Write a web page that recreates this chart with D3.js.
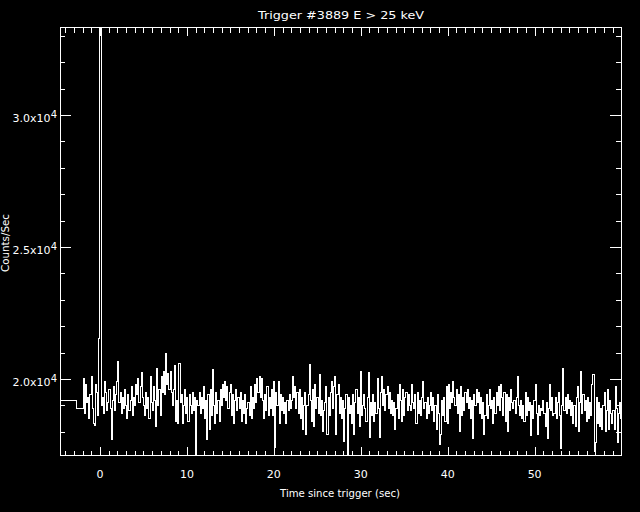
<!DOCTYPE html>
<html><head><meta charset="utf-8">
<script src="https://cdn.jsdelivr.net/npm/d3@7"></script>
<style>
html,body{margin:0;padding:0;background:#000;}
svg{display:block;}
text{font-family:"DejaVu Sans",sans-serif;fill:#fff;}
</style>
</head><body><svg id="c" width="640" height="512"></svg>
<script>
const title = "Trigger #3889 E > 25 keV";
const xLabel = "Time since trigger (sec)";
const yLabel = "Counts/Sec";
const xTickValues = [0, 10, 20, 30, 40, 50];
const xTickLabels = ["0", "10", "20", "30", "40", "50"];
const yTickValues = [20000, 25000, 30000];
const yTickMantissa = ["2.0", "2.5", "3.0"];
const yTickExponent = ["4", "4", "4"];
const xRange = [-4.6, 60.05];
// pre-trigger coarse bins (start times) and rates
const preEdges = [-4.6, -2.66];
const preCounts = [19200, 18900];
// fine-resolution bins
const fineStart = -1.92;
const binWidth = 0.128;
const fineCounts = [
20000,18700,19800,19100,19300,18500,19400,20100,18900,18300,18250,19800,19500,18600,21550,
33330,19000,
19300,18700,19900,19500,18800,19100,19600,18900,17690,19200,19700,18800,19400,19900,20650,
19100,19500,18700,19300,18900,19600,19000,18500,19400,18800,19200,19700,18600,19300,19000,19800,19400,20000,19100,19700,20250,19300,
19000,18600,19500,18900,19300,18500,20100,19100,18800,19700,19200,18200,20400,19000,19600,18600,20100,19500,20300,19400,20950,19800,20200,19600,
20300,19500,19000,19600, 20500,18400,19200, 18300,20600,19100,
19400,18300,19000,19600,18700,19300, 18400,19400,19000,18700, 19500,18800,19300,17120,
19200,19000,19500,18700,19300,18900, 19700,18500,19200,17700, 19400,18100,19600,18600,20350,
19000,18300,19500,18700,19200,18400, 19600,19000,19800,19300,19900,19200,19700,18900,19500,
19800,18600,19400,18300,19200,19600,18800,19300, 18900,19500,18400,19200,18700,19400,18300,18900,19100,
18600,19700,18500,19300,18900,19800,19100,20000,19500,
20100,19300,20000,19200, 18500,19400,18800, 19700,18600,19300,18900,19600,18600, 19900,17400,19500,
19000,19900,18300,19400,18800, 19300,18700,19100,18300,19200,18800,19400,18900,19200,
20100,19300,19700,18900,19500, 18700,19600,18500,19300,18100,19000,19500, 17900,19000,19400,
20550,19200,18400, 19600,18200,19800,18900,19300,18700,20150, 18600,19200,18000,18800,19100,
19700,17900,19300,18600,19500, 19900,18900,19700,20100, 17900,19400,19800,18700,19300,18500,
19200,17640,18900, 19400,17150,19300,18700,
19000,18300,19400,17900,19100, 19600,18700,19300, 18200,20300,18600,19000, 19400,18900,18400,19300,20250,
17800,19100,18600, 19400,18400,19100,18700, 20000,18900,17800, 19500,20100,19000,19600,18800,19400,19700,18900,
19500,18700,19200,18600, 19100,18100,18900,19400,18500, 19800,19200,18400,19600,18600,19300,
19500,18800,19400,19000, 18800,19800,19100,18900,19400, 18300,19500,18700,19200,18600,19300,
19900,18900,19100,18500,19300,18700,19000,19500, 18800,19300,18400,19000,18100,19400,18700,17500,
17900,19200,18600,19300,18400, 19700,18300,19800,18900,19500, 19100,19900,19300, 19000,19600,18700,19400,18000,
19700,18600,19300,18800,19500, 19100,19600,18900,19300, 18500,19200,17750, 19400,19000,19600,19100,19500,
18700,19300,18500,19100, 17880,18600, 19400,18500,19000, 19600,18900,19200, 18300,19300,18700,19500,
19000,19700,18800,19800,19300, 18600,19500,18400,19400, 18000,19300,18800, 19600,19100,18900,19200,
18700,19300,20100,19000, 18600,19200,18500,19000,18400, 19500,18600,19300,18800,19100,
17850,19000,18500, 19200,19800,18700,17900, 19000,18600,18900,18800,19200,18700, 18200,19100,17750,
18900,19800,18800,19300,18600, 18700,19300,18500,19100, 19500,18600,17370, 19000,20380,18800,
19300,18700,19400,18900,19200,18600, 19100,18300,19000,18200,19300, 19700,18000,19100,
20280,18700,19400,18800,19200, 18400,19300,18500,19100,18600, 19800,20150,17250,17600,19300,
18300,19100,18200, 18900,18100,19000, 19500,18000,18800, 19600,18100,19200,18700,18300,
18800,18100,19700,18900, 17600,18700,19100,18500
];

const W = 640, H = 512;
const plot = {left: 60, right: 622, top: 27, bottom: 455};
const svg = d3.select("#c");
svg.append("rect").attr("width", W).attr("height", H).attr("fill", "#000");

const pts = preEdges.map((t, i) => [t, preCounts[i]])
  .concat(fineCounts.map((c, i) => [fineStart + i * binWidth, c]));
pts.push([fineStart + fineCounts.length * binWidth, fineCounts[fineCounts.length - 1]]);

const x = d3.scaleLinear().domain(xRange).range([plot.left, plot.right]);
const y = d3.scaleLinear().domain(d3.extent(preCounts.concat(fineCounts))).range([plot.bottom, plot.top]);

svg.append("clipPath").attr("id", "clip").append("rect")
  .attr("x", plot.left).attr("y", plot.top)
  .attr("width", plot.right - plot.left).attr("height", plot.bottom - plot.top);

const line = d3.line().x(d => x(d[0])).y(d => y(d[1])).curve(d3.curveStepAfter);
svg.append("path").datum(pts).attr("d", line)
  .attr("fill", "none").attr("stroke", "#fff").attr("stroke-width", 1)
  .attr("shape-rendering", "crispEdges")
  .attr("clip-path", "url(#clip)");

// frame
svg.append("rect").attr("x", plot.left + 0.5).attr("y", plot.top + 0.5)
  .attr("width", plot.right - plot.left - 1).attr("height", plot.bottom - plot.top)
  .attr("fill", "none").attr("stroke", "#fff").attr("stroke-width", 1)
  .attr("shape-rendering", "crispEdges");

const xMinor = d3.range(-4, 61, 1).filter(v => v >= xRange[0] && v <= xRange[1] && v % 10 !== 0);
const yMinor = d3.range(18000, 34000, 1000).filter(v => v % 5000 !== 0 && v <= y.domain()[1]);

function styleAxis(g) {
  g.select(".domain").remove();
  g.selectAll("line").attr("stroke", "#fff").attr("stroke-width", 1).attr("shape-rendering", "crispEdges");
  g.selectAll("text").remove();
}
// bottom axis ticks (inward)
svg.append("g").attr("transform", `translate(0,${plot.bottom})`)
  .call(d3.axisBottom(x).tickValues(xMinor).tickSize(-4).tickFormat("")).call(styleAxis);
svg.append("g").attr("transform", `translate(0,${plot.bottom})`)
  .call(d3.axisBottom(x).tickValues(xTickValues).tickSize(-8).tickFormat("")).call(styleAxis);
// top axis
svg.append("g").attr("transform", `translate(0,${plot.top})`)
  .call(d3.axisTop(x).tickValues(xMinor).tickSize(-6).tickFormat("")).call(styleAxis);
svg.append("g").attr("transform", `translate(0,${plot.top})`)
  .call(d3.axisTop(x).tickValues(xTickValues).tickSize(-9).tickFormat("")).call(styleAxis);
// left axis
svg.append("g").attr("transform", `translate(${plot.left},0)`)
  .call(d3.axisLeft(y).tickValues(yMinor).tickSize(-5).tickFormat("")).call(styleAxis);
svg.append("g").attr("transform", `translate(${plot.left},0)`)
  .call(d3.axisLeft(y).tickValues(yTickValues).tickSize(-11).tickFormat("")).call(styleAxis);
// right axis
svg.append("g").attr("transform", `translate(${plot.right},0)`)
  .call(d3.axisRight(y).tickValues(yMinor).tickSize(-6).tickFormat("")).call(styleAxis);
svg.append("g").attr("transform", `translate(${plot.right},0)`)
  .call(d3.axisRight(y).tickValues(yTickValues).tickSize(-12).tickFormat("")).call(styleAxis);

// x tick labels
svg.append("g").selectAll("text").data(xTickValues).join("text")
  .attr("x", d => x(d)).attr("y", 478).attr("text-anchor", "middle")
  .attr("font-size", 11).text((d, i) => xTickLabels[i]);

// y tick labels
const yl = svg.append("g").selectAll("text").data(yTickValues).join("text")
  .attr("x", 57).attr("y", d => y(d) + 7).attr("text-anchor", "end").attr("font-size", 11);
yl.append("tspan").text((d, i) => yTickMantissa[i] + "x10");
yl.append("tspan").attr("dy", -4).attr("font-size", 10).text((d, i) => yTickExponent[i]);

// title
svg.append("text").attr("x", (plot.left + plot.right) / 2).attr("y", 19)
  .attr("text-anchor", "middle").attr("font-size", 11)
  .attr("textLength", 166).attr("lengthAdjust", "spacingAndGlyphs").text(title);
// x label
svg.append("text").attr("x", 340).attr("y", 497)
  .attr("text-anchor", "middle").attr("font-size", 11)
  .attr("textLength", 120).attr("lengthAdjust", "spacingAndGlyphs").text(xLabel);
// y label
svg.append("text").attr("transform", "translate(9,243) rotate(-90)")
  .attr("text-anchor", "middle").attr("font-size", 11)
  .attr("textLength", 58).attr("lengthAdjust", "spacingAndGlyphs").text(yLabel);
</script>
</body></html>
